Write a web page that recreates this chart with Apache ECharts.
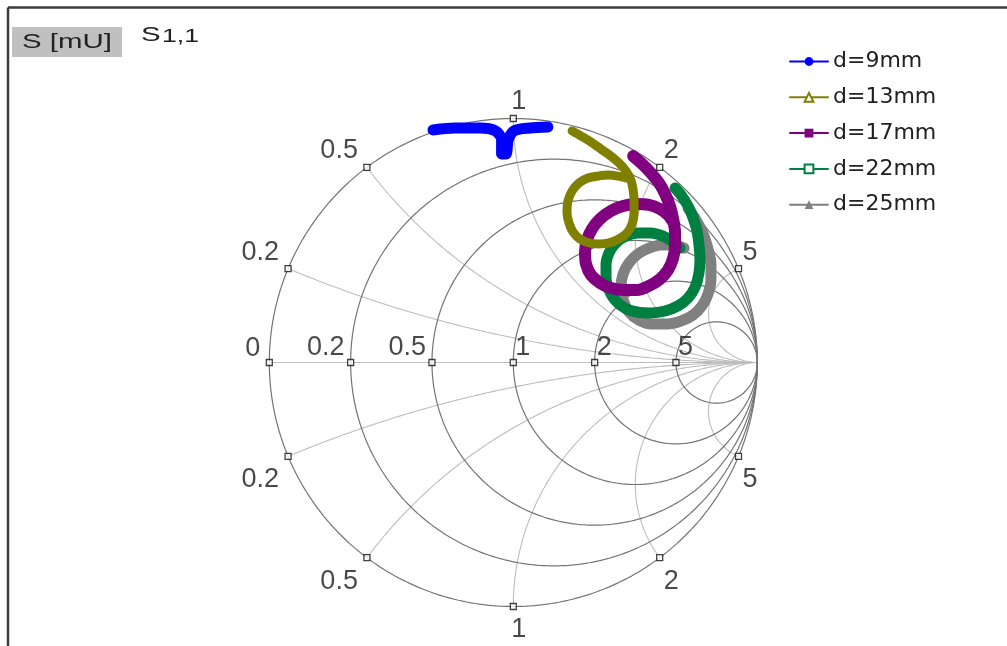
<!DOCTYPE html>
<html><head><meta charset="utf-8">
<script src="https://cdn.jsdelivr.net/npm/echarts@6/dist/echarts.min.js"></script>
<style>html,body{margin:0;padding:0;background:#fff}#c{width:1007px;height:646px}</style>
</head><body><div id="c"></div>
<script>
// ---- data (reflection coefficient, real / imaginary) ----
const seriesNames = ['d=9mm', 'd=13mm', 'd=17mm', 'd=22mm', 'd=25mm'];
const d9 = [[-0.329,0.953],[-0.239,0.961],[-0.136,0.961],[-0.075,0.950],[-0.048,0.915],[-0.048,0.855],[-0.030,0.855],[-0.020,0.915],[0.005,0.950],[0.068,0.961],[0.142,0.965]];
const d13 = [[0.241,0.949],[0.278,0.928],[0.318,0.904],[0.359,0.875],[0.400,0.846],[0.433,0.818],[0.462,0.785],[0.482,0.748],[0.491,0.707],[0.495,0.666],[0.495,0.617],[0.487,0.568],[0.466,0.531],[0.433,0.506],[0.392,0.490],[0.351,0.486],[0.310,0.490],[0.273,0.506],[0.245,0.535],[0.228,0.572],[0.220,0.617],[0.224,0.662],[0.241,0.703],[0.269,0.736],[0.306,0.756],[0.347,0.764],[0.388,0.768],[0.429,0.764],[0.466,0.756]];
const d17 = [[0.491,0.846],[0.528,0.814],[0.564,0.777],[0.597,0.736],[0.622,0.691],[0.642,0.641],[0.655,0.588],[0.663,0.531],[0.663,0.478],[0.655,0.428],[0.634,0.379],[0.601,0.342],[0.556,0.314],[0.507,0.297],[0.454,0.297],[0.400,0.305],[0.355,0.326],[0.318,0.359],[0.298,0.404],[0.294,0.453],[0.302,0.502],[0.322,0.547],[0.355,0.588],[0.400,0.621],[0.450,0.641],[0.503,0.650],[0.556,0.646],[0.601,0.629],[0.634,0.605],[0.655,0.576]];
const d22 = [[0.663,0.715],[0.691,0.682],[0.716,0.641],[0.737,0.592],[0.753,0.539],[0.761,0.482],[0.765,0.424],[0.761,0.367],[0.745,0.309],[0.716,0.264],[0.675,0.232],[0.622,0.211],[0.564,0.203],[0.507,0.207],[0.458,0.223],[0.417,0.256],[0.392,0.297],[0.380,0.346],[0.380,0.400],[0.392,0.449],[0.421,0.490],[0.462,0.518],[0.511,0.531],[0.564,0.531],[0.614,0.518],[0.655,0.494],[0.683,0.469]];
const d25 = [[0.716,0.633],[0.749,0.584],[0.778,0.527],[0.798,0.465],[0.810,0.404],[0.810,0.342],[0.798,0.281],[0.773,0.232],[0.737,0.195],[0.687,0.170],[0.630,0.158],[0.568,0.158],[0.515,0.174],[0.474,0.207],[0.450,0.256],[0.441,0.309],[0.450,0.363],[0.474,0.408],[0.511,0.445],[0.556,0.469],[0.605,0.482],[0.655,0.482],[0.700,0.469]];
const resistanceTicks = [0, 0.2, 0.5, 1, 2, 5];
const resistanceLabels = ['0', '0.2', '0.5', '1', '2', '5'];
const reactanceTicks = [0.2, 0.5, 1, 2, 5];
const reactanceLabels = ['0.2', '0.5', '1', '2', '5'];

// ---- styling ----
const colors = ['#0000ff', '#808000', '#800080', '#008040', '#808080'];
const widths = [11, 9, 12, 11, 11];
const symbols = ['circle', 'emptyTriangle', 'rect', 'emptyRect', 'triangle'];
const zs = [6, 5, 4, 3, 2];

function resistanceCircle(r) {
  const c = r / (1 + r), rad = 1 / (1 + r), pts = [];
  for (let i = 0; i <= 360; i++) { const t = i * Math.PI / 180; pts.push([c + rad * Math.cos(t), rad * Math.sin(t)]); }
  return pts;
}
function reactanceArc(x) {
  const pts = [];
  const n = 300;
  for (let i = 0; i < n; i++) {
    const r = Math.tan(i / n * Math.PI / 2);
    const D = (r + 1) * (r + 1) + x * x;
    pts.push([(r * r + x * x - 1) / D, 2 * x / D]);
  }
  pts.push([1, 0]);
  return pts;
}
function outerPoint(x) { return [(x * x - 1) / (x * x + 1), 2 * x / (x * x + 1)]; }

const gridSeries = [];
resistanceTicks.forEach(r => gridSeries.push({
  type: 'line', data: resistanceCircle(r), showSymbol: false, silent: true, z: 1,
  lineStyle: { color: '#747474', width: 1.2 }, smooth: false
}));
gridSeries.push({ type: 'line', data: [[-1, 0], [1, 0]], showSymbol: false, silent: true, z: 0,
  lineStyle: { color: '#bdbdbd', width: 1.2 } });
reactanceTicks.forEach(x => [x, -x].forEach(v => gridSeries.push({
  type: 'line', data: reactanceArc(v), showSymbol: false, silent: true, z: 0,
  lineStyle: { color: '#bdbdbd', width: 1.1 }
})));

// tick markers + labels
const tickData = [];
resistanceTicks.forEach((r, i) => {
  const g = (r - 1) / (r + 1);
  let lab;
  if (r === 0) lab = { align: 'right', verticalAlign: 'bottom', offset: [-9, 0] };
  else if (r < 1) lab = { align: 'right', verticalAlign: 'bottom', offset: [-6, -1] };
  else lab = { align: 'left', verticalAlign: 'bottom', offset: [2, -1] };
  tickData.push({ value: [g, 0], name: resistanceLabels[i], label: lab });
});
reactanceTicks.forEach((x, i) => {
  [x, -x].forEach(v => {
    const p = outerPoint(v);
    const right = p[0] > -0.01;
    const upper = v > 0;
    const lab = {
      align: right ? 'left' : 'right',
      verticalAlign: upper ? 'bottom' : 'top',
      offset: [right ? (x === 1 ? -2 : 4) : -9, upper ? -3 : 10]
    };
    tickData.push({ value: p, name: reactanceLabels[i], label: lab });
  });
});

const dataArrays = [d9, d13, d17, d22, d25];
const dataSeries = dataArrays.map((d, i) => ({
  name: seriesNames[i], type: 'line', data: d, smooth: 0.3, showSymbol: false,
  symbol: symbols[i], symbolSize: 9, z: zs[i], clip: false,
  itemStyle: { color: colors[i] },
  lineStyle: { color: colors[i], width: widths[i], cap: 'round', join: 'round' }
}));

const chart = echarts.init(document.getElementById('c'), null, { renderer: 'canvas' });
chart.setOption({
  animation: false,
  backgroundColor: '#fff',
  grid: { left: 269.3, top: 118.5, width: 488, height: 488 },
  xAxis: { type: 'value', min: -1, max: 1, show: false },
  yAxis: { type: 'value', min: -1, max: 1, show: false },
  legend: {
    data: seriesNames, orient: 'vertical', left: 789, top: 48.5, padding: 0,
    itemWidth: 38, itemHeight: 11, itemGap: 9.8,
    lineStyle: { width: 2 },
    textStyle: { fontFamily: 'DejaVu Sans', fontSize: 22, color: '#222', lineHeight: 26 }
  },
  graphic: [
    { type: 'line', shape: { x1: 8, y1: 7.5, x2: 1007, y2: 7.5 }, style: { stroke: '#3c3c3c', lineWidth: 2.5 } },
    { type: 'line', shape: { x1: 8, y1: 7.5, x2: 8, y2: 646 }, style: { stroke: '#3c3c3c', lineWidth: 2.5 } },
    { type: 'rect', shape: { x: 12, y: 27, width: 110, height: 30 }, style: { fill: '#c0c0c0' } },
    { type: 'text', x: 22, y: 42, scaleX: 1.4, style: { text: 'S [mU]', font: '21px "Liberation Sans"', fill: '#222', verticalAlign: 'middle' } },
    { type: 'text', x: 141, y: 35, scaleX: 1.4, style: { text: 'S', font: '21px "Liberation Sans"', fill: '#222', verticalAlign: 'middle' } },
    { type: 'text', x: 162, y: 37, scaleX: 1.4, style: { text: '1,1', font: '19px "Liberation Sans"', fill: '#222', verticalAlign: 'middle' } }
  ],
  series: gridSeries.concat([{
    type: 'scatter', data: tickData, symbol: 'rect', symbolSize: 6, z: 10, silent: true,
    itemStyle: { color: '#fff', borderColor: '#111', borderWidth: 1.3 },
    label: { show: true, position: 'inside', formatter: '{b}', color: '#1a1a1a',
      fontFamily: 'Liberation Sans', fontSize: 27 }
  }]).concat(dataSeries)
});
</script></body></html>
